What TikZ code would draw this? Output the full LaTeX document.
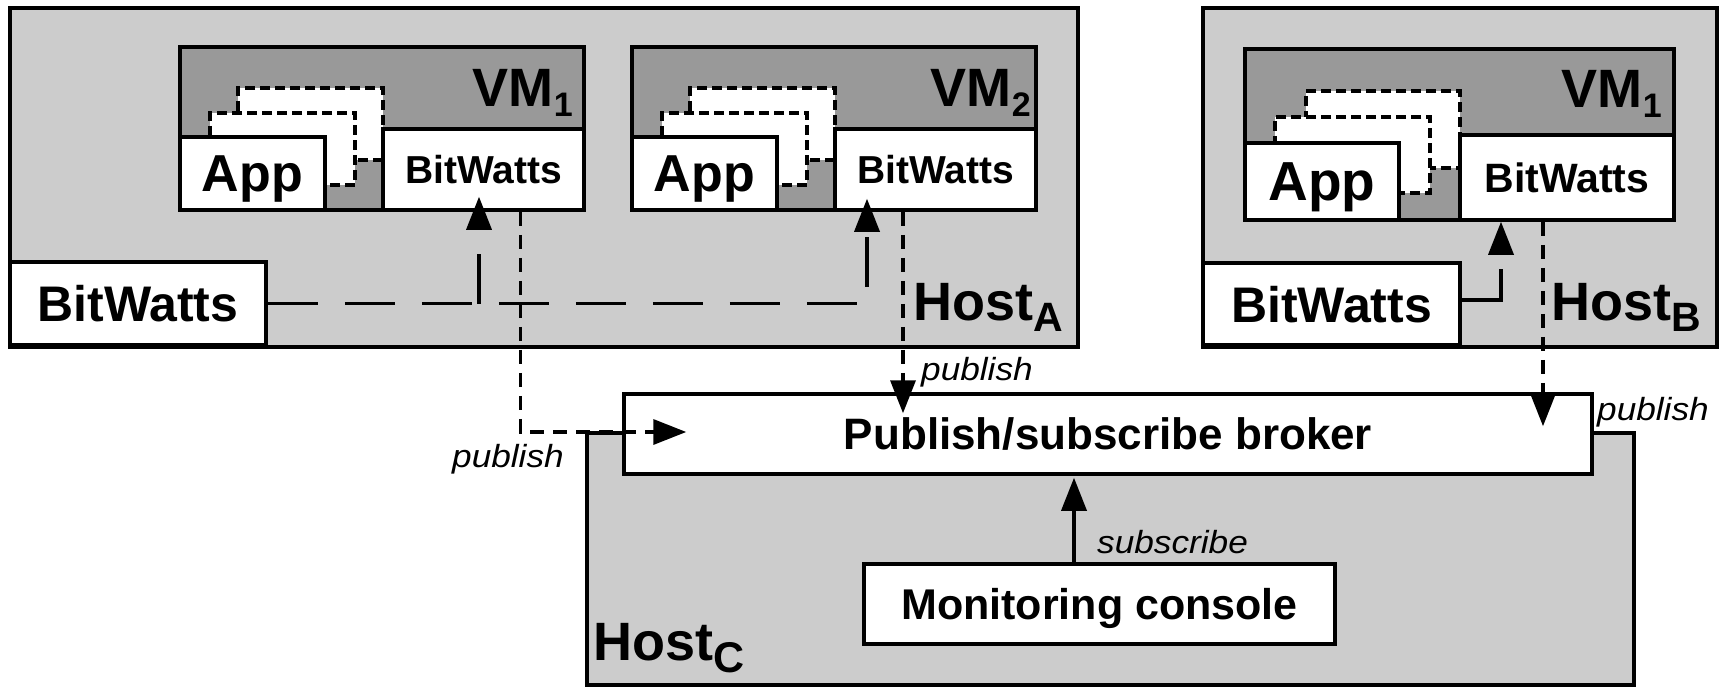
\documentclass[tikz,border=0pt]{standalone}
\usepackage{fontspec}
\setmainfont{Liberation Sans}
\newfontfamily\lblfont[FakeStretch=1.1]{Liberation Sans}
\usetikzlibrary{arrows.meta,calc}
\definecolor{hostgray}{HTML}{CCCCCC}
\definecolor{vmgray}{HTML}{999999}
\newcommand\fsz[1]{\fontsize{#1}{#1}\selectfont}
\begin{document}
\begin{tikzpicture}[x=1pt,y=-1pt,
  lw/.style={line width=3.5pt},
  hostbox/.style={draw, lw, fill=hostgray, inner sep=0pt},
  vmbox/.style={draw, lw, fill=vmgray, inner sep=0pt},
  wbox/.style={draw, lw, fill=white, inner sep=0pt, text depth=0pt},
  stackbox/.style={draw, lw, fill=white, dash pattern=on 10pt off 5pt, inner sep=0pt},
  ldash/.style={lw, dash pattern=on 50pt off 27pt},
  sdash/.style={lw, dash pattern=on 14pt off 9pt},
  tip/.style={-{Triangle[length=33pt,width=25pt]}},
  lbl/.style={font=\lblfont\itshape\fsz{32}, inner sep=0pt, anchor=base west},
  title/.style={font=\bfseries\fsz{54}, inner sep=0pt},
]
\useasboundingbox (0,0) rectangle (1729,687);

% hosts
\node[hostbox, minimum width=1068pt, minimum height=339pt] (hostA) at (544,177.5) {};
\node[hostbox, minimum width=514pt, minimum height=339pt] (hostB) at (1460,177.5) {};
\node[hostbox, minimum width=1047pt, minimum height=252pt] (hostC) at (1110.5,559) {};

% VM1 on host A
\node[vmbox, minimum width=404pt, minimum height=163pt] (vmA1) at (382,128.5) {};
\node[stackbox, minimum width=145pt, minimum height=72pt] (stA1a) at (310.5,124) {};
\node[stackbox, minimum width=145pt, minimum height=72pt] (stA1b) at (282.5,149) {};
\node[wbox, minimum width=145pt, minimum height=73pt, font=\bfseries\fsz{52}] (appA1) at (252.5,173.5) {App};
\node[wbox, minimum width=201pt, minimum height=81pt, font=\bfseries\fsz{39}] (bwA1) at (483.5,169.5) {BitWatts};
\node[title, anchor=base east] (vmA1lbl) at (573,107) {VM\raisebox{-10pt}{\fsz{34}1}};

% VM2 on host A
\node[vmbox, minimum width=404pt, minimum height=163pt] (vmA2) at (834,128.5) {};
\node[stackbox, minimum width=145pt, minimum height=72pt] (stA2a) at (762.5,124) {};
\node[stackbox, minimum width=145pt, minimum height=72pt] (stA2b) at (734.5,149) {};
\node[wbox, minimum width=145pt, minimum height=73pt, font=\bfseries\fsz{52}] (appA2) at (704.5,173.5) {App};
\node[wbox, minimum width=201pt, minimum height=81pt, font=\bfseries\fsz{39}] (bwA2) at (935.5,169.5) {BitWatts};
\node[title, anchor=base east] (vmA2lbl) at (1031,107) {VM\raisebox{-10pt}{\fsz{34}2}};

% VM1 on host B
\node[vmbox, minimum width=429pt, minimum height=171pt] (vmB) at (1459.5,134.5) {};
\node[stackbox, minimum width=154pt, minimum height=77pt] (stBa) at (1383,129.5) {};
\node[stackbox, minimum width=155pt, minimum height=76pt] (stBb) at (1352.5,155) {};
\node[wbox, minimum width=154pt, minimum height=77pt, font=\bfseries\fsz{55}] (appB) at (1322,181.5) {App};
\node[wbox, minimum width=214pt, minimum height=85pt, font=\bfseries\fsz{41}] (bwB) at (1567,177.5) {BitWatts};
\node[title, anchor=base east] (vmBlbl) at (1662,108) {VM\raisebox{-10pt}{\fsz{34}1}};

% host-level BitWatts
\node[wbox, minimum width=256pt, minimum height=83pt, font=\bfseries\fsz{50}] (hbwA) at (138,303.5) {BitWatts};
\node[wbox, minimum width=257pt, minimum height=82pt, font=\bfseries\fsz{50}] (hbwB) at (1331.5,304) {BitWatts};

% host labels
\node[title, anchor=base west] (hAlbl) at (913,320) {Host\raisebox{-11pt}{\fsz{41}A}};
\node[title, anchor=base west] (hBlbl) at (1551,320) {Host\raisebox{-11pt}{\fsz{41}B}};
\node[title, anchor=base west] (hClbl) at (593,660) {Host\raisebox{-12pt}{\fsz{43}C}};

% broker and console
\node[wbox, minimum width=968pt, minimum height=80pt, font=\bfseries\fsz{44}] (broker) at (1108,434) {Publish/subscribe broker};
\node[wbox, minimum width=471pt, minimum height=80pt, font=\bfseries\fsz{43}] (console) at (1099.5,604) {Monitoring console};

% host BitWatts -> VM BitWatts
\coordinate (j1) at ($(bwA1.south |- hbwA.east)+(-4.5,0)$);
\draw[ldash, tip] (hbwA.east) -| ($(bwA2.south)+(-68.5,-13)$);
\draw[ldash, tip] (j1) -- ($(bwA1.south)+(-4.5,-15)$);
\draw[lw, dash pattern=on 70pt off 30pt, tip] ($(hbwB.east)+(0,-4)$) -| ($(bwB.south)+(-66,0)$);

% publish
\draw[sdash, tip] ($(bwA1.south)+(37,0)$) |- ($(broker.west)+(64,-2)$);
\draw[sdash, tip] ($(bwA2.south)+(-32.5,0)$) -- ($(bwA2.south |- broker.north)+(-32.5,21)$);
\draw[sdash, tip] ($(bwB.south)+(-24,0)$) -- ($(bwB.south |- broker.north)+(-24,34)$);

% subscribe
\draw[lw, tip] ($(console.north)+(-25.5,0)$) -- ($(console.north |- broker.south)+(-25.5,2)$);

% labels
\node[lbl] (pub1) at (452,467) {publish};
\node[lbl] (pub2) at (921,380) {publish};
\node[lbl] (pub3) at (1597,420) {publish};
\node[lbl] (subl) at (1097,553) {subscribe};
\end{tikzpicture}
\end{document}
